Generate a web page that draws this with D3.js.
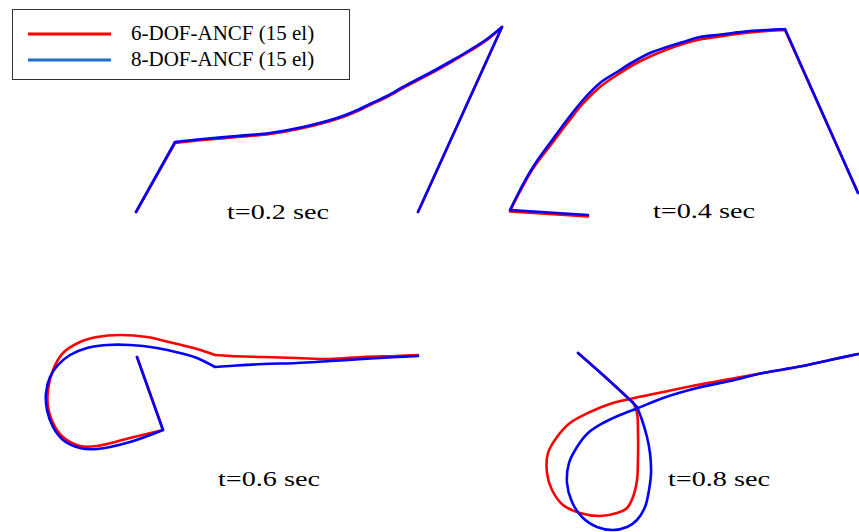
<!DOCTYPE html>
<html>
<head>
<meta charset="utf-8">
<script src="https://cdn.jsdelivr.net/npm/d3@7"></script>
<style>
  html, body { margin: 0; padding: 0; background: #fff; }
  svg { display: block; }
</style>
</head>
<body>
<svg id="chart" width="859" height="532"></svg>
<script>
// Beam configurations at four instants, plotted in a shared plane (x to the right, y up).
const seriesNames = ["6-DOF-ANCF (15 el)", "8-DOF-ANCF (15 el)"];
const snapshotLabels = ["t=0.2 sec", "t=0.4 sec", "t=0.6 sec", "t=0.8 sec"];
const labelAnchors = [[2.27, 3.13], [6.53, 3.14], [2.18, 0.46], [6.68, 0.46]];

// t = 0.2 s
const beam6_t02 = [[1.36,3.20],[1.75,3.89],[2.03,3.92],[2.37,3.95],[2.70,3.98],[3.03,4.04],[3.37,4.13],[3.53,4.19],[3.70,4.27],[3.87,4.35],[4.03,4.44],[4.20,4.53],[4.37,4.62],[4.53,4.71],[4.70,4.81],[4.87,4.92],[5.02,5.05],[4.18,3.20]];
const beam8_t02 = [[1.36,3.20],[1.75,3.90],[2.03,3.93],[2.37,3.96],[2.70,3.99],[3.03,4.05],[3.37,4.14],[3.53,4.20],[3.70,4.28],[3.87,4.36],[4.03,4.45],[4.20,4.54],[4.37,4.63],[4.53,4.72],[4.70,4.82],[4.87,4.93],[5.02,5.05],[4.18,3.20]];

// t = 0.4 s
const beam6_t04 = [[5.88,3.155],[5.10,3.205],[5.20,3.405],[5.33,3.635],[5.50,3.86],[5.67,4.085],[5.83,4.285],[6.00,4.45],[6.17,4.57],[6.33,4.67],[6.50,4.755],[6.67,4.825],[6.83,4.88],[7.00,4.925],[7.17,4.95],[7.33,4.975],[7.50,4.995],[7.67,5.01],[7.85,5.02],[8.58,3.39]];
const beam8_t04 = [[5.88,3.17],[5.10,3.22],[5.20,3.42],[5.33,3.65],[5.50,3.89],[5.67,4.12],[5.83,4.32],[6.00,4.49],[6.17,4.60],[6.33,4.70],[6.50,4.79],[6.67,4.85],[6.83,4.90],[7.00,4.95],[7.17,4.97],[7.33,4.99],[7.50,5.01],[7.67,5.02],[7.85,5.03],[8.58,3.39]];

// t = 0.6 s
const beam6_t06 = [[1.37,1.75],[1.63,1.02],[1.30,0.94],[0.97,0.86],[0.80,0.86],[0.63,0.95],[0.53,1.09],[0.48,1.25],[0.48,1.42],[0.53,1.62],[0.63,1.79],[0.80,1.90],[0.97,1.95],[1.20,1.97],[1.47,1.95],[1.73,1.89],[1.97,1.83],[2.15,1.77],[2.30,1.76],[2.63,1.75],[2.97,1.74],[3.30,1.73],[3.63,1.75],[3.97,1.76],[4.18,1.77]];
const beam8_t06 = [[1.37,1.75],[1.63,1.02],[1.30,0.90],[0.97,0.83],[0.80,0.84],[0.63,0.92],[0.53,1.05],[0.47,1.22],[0.46,1.39],[0.50,1.55],[0.58,1.67],[0.70,1.77],[0.87,1.84],[1.07,1.87],[1.30,1.87],[1.57,1.84],[1.80,1.79],[1.97,1.74],[2.15,1.65],[2.30,1.66],[2.63,1.68],[2.97,1.69],[3.30,1.71],[3.63,1.73],[3.97,1.75],[4.18,1.76]];

// t = 0.8 s
const beam6_t08 = [[5.78,1.79],[6.03,1.57],[6.27,1.35],[6.33,1.30],[6.37,1.19],[6.38,0.99],[6.38,0.75],[6.37,0.52],[6.33,0.35],[6.27,0.24],[6.17,0.19],[6.00,0.16],[5.80,0.19],[5.63,0.27],[5.52,0.42],[5.47,0.59],[5.48,0.79],[5.57,0.95],[5.70,1.09],[5.90,1.20],[6.10,1.28],[6.30,1.33],[6.63,1.40],[6.97,1.47],[7.30,1.53],[7.63,1.59],[7.97,1.65],[8.30,1.72],[8.58,1.78]];
const beam8_t08 = [[5.78,1.79],[6.03,1.57],[6.27,1.35],[6.37,1.25],[6.42,1.12],[6.47,0.95],[6.50,0.79],[6.51,0.59],[6.49,0.42],[6.45,0.25],[6.37,0.12],[6.27,0.05],[6.13,0.02],[5.97,0.05],[5.82,0.15],[5.72,0.30],[5.67,0.49],[5.69,0.69],[5.77,0.85],[5.88,0.99],[6.03,1.09],[6.20,1.17],[6.38,1.24],[6.63,1.34],[6.97,1.44],[7.30,1.51],[7.63,1.59],[7.97,1.65],[8.30,1.72],[8.58,1.78]];

// Node indices where the deformed beam has a kink (curve is not smoothed across them)
const kinks6 = [[1, 16], [1, 18], [1, 17], [3]];
const kinks8 = [[1, 16], [1, 18], [1, 18], [3]];

const beams6 = [beam6_t02, beam6_t04, beam6_t06, beam6_t08];
const beams8 = [beam8_t02, beam8_t04, beam8_t06, beam8_t08];

const width = 859, height = 532;
const svg = d3.select("#chart");

const x = d3.scaleLinear().domain([0, 8.59]).range([0, width]);
const y = d3.scaleLinear().domain([0, 5.32]).range([height, 0]);

const line = d3.line()
  .x(d => x(d[0]))
  .y(d => y(d[1]))
  .curve(d3.curveCatmullRom.alpha(0.5));

// Smooth each stretch between kinks separately so corners stay sharp
function beamPath(points, kinks) {
  const cuts = [0, ...kinks, points.length - 1];
  let d = "";
  for (let i = 0; i < cuts.length - 1; i++) {
    d += line(points.slice(cuts[i], cuts[i + 1] + 1));
  }
  return d;
}

const curveColors = ["#ff0000", "#0000ff"];
const legendColors = ["#ff0000", "#1f6fc2"];

const plot = svg.append("g");

[[beams6, kinks6], [beams8, kinks8]].forEach(([set, kinks], si) => {
  plot.selectAll(null)
    .data(set)
    .join("path")
    .attr("d", (d, i) => beamPath(d, kinks[i]))
    .attr("fill", "none")
    .attr("stroke", curveColors[si])
    .attr("stroke-width", 2.6)
    .attr("stroke-linejoin", "round")
    .attr("stroke-linecap", "round");
});

// Snapshot time labels
svg.append("g")
  .selectAll("text")
  .data(snapshotLabels)
  .join("text")
  .attr("x", (d, i) => x(labelAnchors[i][0]))
  .attr("y", (d, i) => y(labelAnchors[i][1]))
  .attr("textLength", 102)
  .attr("lengthAdjust", "spacingAndGlyphs")
  .style("font-family", "'Liberation Serif', 'Times New Roman', serif")
  .style("font-size", "22px")
  .style("fill", "#000")
  .text(d => d);

// Legend
const legend = svg.append("g");
legend.append("rect")
  .attr("x", 12.5).attr("y", 9.5)
  .attr("width", 337).attr("height", 70)
  .attr("fill", "#fff")
  .attr("stroke", "#333")
  .attr("stroke-width", 1);

const rows = legend.selectAll("g.row")
  .data(seriesNames)
  .join("g")
  .attr("class", "row")
  .attr("transform", (d, i) => `translate(0, ${i * 26})`);

rows.append("line")
  .attr("x1", 28).attr("x2", 111)
  .attr("y1", 34).attr("y2", 34)
  .attr("stroke", (d, i) => legendColors[i])
  .attr("stroke-width", 3);

rows.append("text")
  .attr("x", 131).attr("y", 40)
  .style("font-family", "'Liberation Serif', 'Times New Roman', serif")
  .style("font-size", "21px")
  .style("fill", "#000")
  .text(d => d);
</script>
</body>
</html>
